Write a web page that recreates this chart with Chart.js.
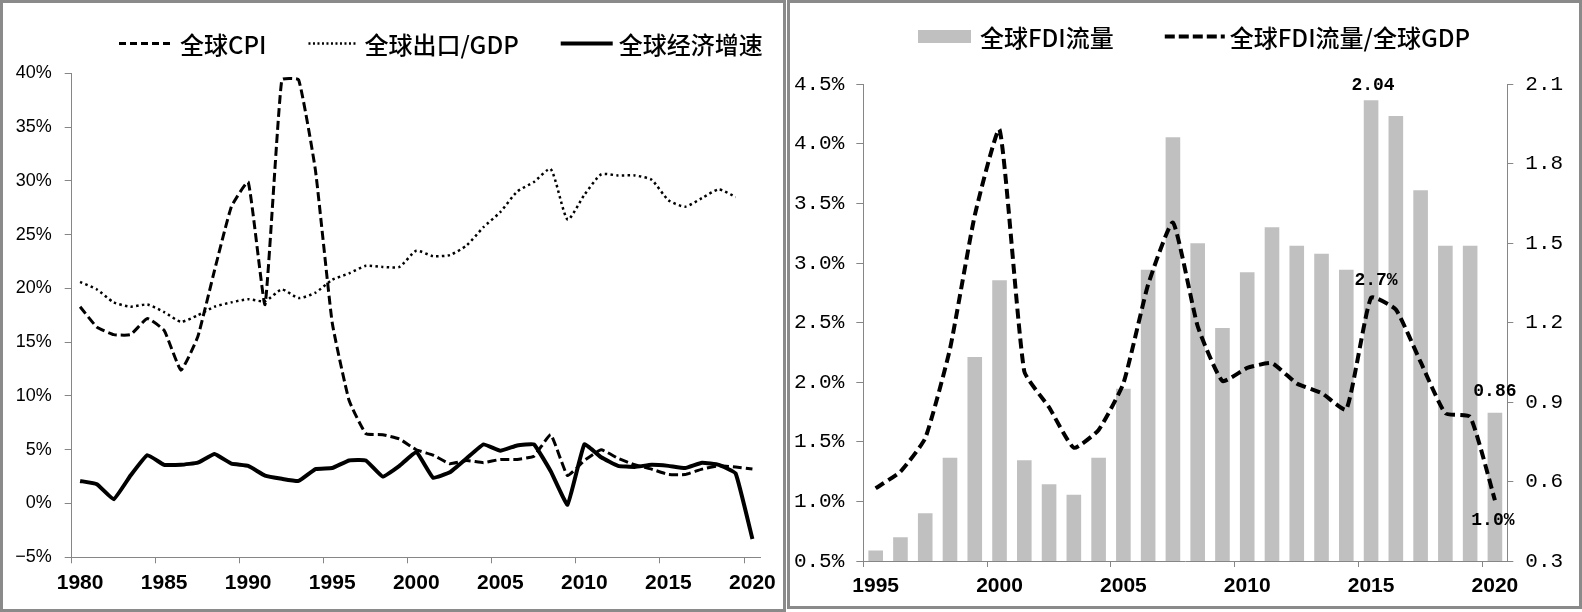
<!DOCTYPE html>
<html><head><meta charset="utf-8">
<script src="https://cdn.jsdelivr.net/npm/chart.js@4.4.1/dist/chart.umd.min.js"></script>
<style>
html,body{margin:0;padding:0;background:#fff;}
body{width:1582px;height:612px;position:relative;overflow:hidden;}
.panel{position:absolute;box-sizing:border-box;border:3px solid #8a8a8a;background:#fff;}
#p1{left:0;top:0;width:786px;height:612px;}
#p2{left:787px;top:0;width:795px;height:609px;}
canvas{position:absolute;left:0;top:0;}
</style></head><body>
<div class="panel" id="p1"><canvas id="c1" width="780" height="606"></canvas></div>
<div class="panel" id="p2"><canvas id="c2" width="789" height="603"></canvas></div>
<script>
// ---------- Data: left chart ----------
const yearsLeft = ['1980','1981','1982','1983','1984','1985','1986','1987','1988','1989','1990','1991','1992','1993','1994','1995','1996','1997','1998','1999','2000','2001','2002','2003','2004','2005','2006','2007','2008','2009','2010','2011','2012','2013','2014','2015','2016','2017','2018','2019','2020'];
const globalCPI = [18.3,16.4,15.7,15.7,17.2,16.1,12.4,15.5,21.7,27.6,29.9,18.5,39.4,39.4,31.0,16.8,9.6,6.5,6.4,6.0,5.0,4.5,3.7,4.0,3.8,4.1,4.1,4.4,6.4,2.6,4.0,5.0,4.2,3.6,3.2,2.7,2.7,3.2,3.5,3.4,3.2];
const exportToGDP = [20.6,19.9,18.7,18.3,18.5,17.8,16.9,17.5,18.3,18.7,19.0,18.8,19.9,19.1,19.6,20.8,21.4,22.1,22.0,22.0,23.5,23.0,23.1,24.0,25.7,27.1,29.0,29.9,31.1,26.4,28.7,30.6,30.5,30.5,30.1,28.2,27.6,28.4,29.2,28.5,null];
const gdpGrowth = [2.1,1.8,0.4,2.6,4.5,3.6,3.6,3.8,4.6,3.7,3.5,2.6,2.3,2.1,3.2,3.3,4.0,4.0,2.5,3.5,4.8,2.4,2.9,4.2,5.5,4.9,5.4,5.5,3.0,-0.1,5.5,4.3,3.5,3.4,3.6,3.5,3.3,3.8,3.6,2.8,-3.3];
const leftTicks = {min:-5, max:40, step:5};

// ---------- Data: right chart ----------
const yearsRight = ['1995','1996','1997','1998','1999','2000','2001','2002','2003','2004','2005','2006','2007','2008','2009','2010','2011','2012','2013','2014','2015','2016','2017','2018','2019','2020'];
const fdiFlow = [0.34,0.39,0.48,0.69,1.07,1.36,0.68,0.59,0.55,0.69,0.95,1.40,1.90,1.50,1.18,1.39,1.56,1.49,1.46,1.40,2.04,1.98,1.70,1.49,1.49,0.86];
const fdiToGDP = [1.11,1.25,1.53,2.28,3.40,4.12,2.09,1.79,1.45,1.60,1.99,2.82,3.34,2.47,2.01,2.12,2.16,1.99,1.91,1.77,2.71,2.61,2.17,1.74,1.71,1.01];
const rightPctTicks = {min:0.5, max:4.5, step:0.5};
const rightValTicks = {min:0.3, max:2.1, step:0.3};
const labelledBarYears = ['2015','2020'];
const labelledLineYears = ['2015','2020'];

// ---------- Styles ----------
const AXIS = '#868686';
const BLACK = '#000000';
const BAR = '#c0c0c0';
const LEGEND_FONT = '500 24px "Noto Sans CJK SC", "Noto Sans", sans-serif';
const XFONT = {family:'"Liberation Sans", Arial, sans-serif', size:21, weight:'bold'};

const legendPlugin = {
  id: 'customLegend',
  afterDraw(chart, args, o) {
    const ctx = chart.ctx;
    ctx.save();
    ctx.font = o.font;
    ctx.textBaseline = 'middle';
    ctx.textAlign = 'left';
    let x = o.x;
    chart.data.datasets.forEach((ds, i) => {
      const w = o.sampleWidths[i];
      const isBar = ds.type === 'bar';
      if (isBar) {
        ctx.fillStyle = ds.backgroundColor;
        ctx.fillRect(x, o.y - o.boxH / 2, w, o.boxH);
      } else {
        ctx.strokeStyle = ds.borderColor;
        ctx.lineWidth = o.lineWidths[i];
        ctx.lineCap = 'butt';
        ctx.setLineDash(o.dashes[i]);
        ctx.beginPath();
        ctx.moveTo(x, o.y);
        ctx.lineTo(x + w, o.y);
        ctx.stroke();
        ctx.setLineDash([]);
      }
      x += w + o.textGaps[i];
      ctx.fillStyle = BLACK;
      ctx.fillText(ds.label, x, o.y + 1);
      x += ctx.measureText(ds.label).width + o.itemGap;
    });
    ctx.restore();
  }
};

const valueLabelPlugin = {
  id: 'valueLabels',
  afterDatasetsDraw(chart, args, o) {
    const ctx = chart.ctx;
    ctx.save();
    ctx.font = o.font;
    ctx.fillStyle = BLACK;
    ctx.textAlign = 'center';
    ctx.textBaseline = 'middle';
    o.items.forEach(it => {
      const meta = chart.getDatasetMeta(it.dataset);
      it.years.forEach((yr, k) => {
        const idx = chart.data.labels.indexOf(yr);
        const el = meta.data[idx];
        const v = chart.data.datasets[it.dataset].data[idx];
        ctx.fillText(it.fmt(v), el.x + (it.dx ? it.dx[k] : 0), el.y + it.dy[k]);
      });
    });
    ctx.restore();
  }
};

function xAxis() {
  return {
    type: 'category',
    offset: true,
    grid: {
      offset: true, drawOnChartArea: false, drawTicks: true, tickLength: 6,
      tickColor: c => (c.type === 'tick' && c.index % 5 === 0) ? AXIS : 'rgba(0,0,0,0)'
    },
    border: {display: true, color: AXIS, width: 1},
    ticks: {
      autoSkip: false, maxRotation: 0, minRotation: 0, padding: 7, color: BLACK, font: XFONT,
      callback(v) { const l = this.getLabelForValue(v); return (+l) % 5 === 0 ? l : ''; }
    },
    afterFit(s) { s.height = 40; }
  };
}

// ---------- Left chart ----------
new Chart(document.getElementById('c1'), {
  type: 'line',
  data: {
    labels: yearsLeft,
    datasets: [
      {label: '全球CPI', data: globalCPI, borderColor: BLACK, borderWidth: 3, borderDash: [9, 4], pointRadius: 0, tension: 0.12, fill: false},
      {label: '全球出口/GDP', data: exportToGDP, borderColor: BLACK, borderWidth: 2.5, borderDash: [2.5, 3.2], pointRadius: 0, tension: 0.2, fill: false},
      {label: '全球经济增速', data: gdpGrowth, borderColor: BLACK, borderWidth: 4, pointRadius: 0, tension: 0.1, fill: false, borderJoinStyle: 'round'}
    ]
  },
  options: {
    responsive: false, animation: false, devicePixelRatio: 1,
    layout: {padding: {top: 70.3, right: 17.2, bottom: 11.7, left: 0}},
    plugins: {
      legend: {display: false}, tooltip: {enabled: false},
      customLegend: {font: LEGEND_FONT, x: 116, y: 40.4, sampleWidths: [53, 47, 52], lineWidths: [3, 2.5, 4], dashes: [[7, 4], [2, 2.5], []], textGaps: [8, 9, 6], itemGap: 42, boxH: 13}
    },
    scales: {
      x: xAxis(),
      y: {
        min: leftTicks.min, max: leftTicks.max,
        ticks: {stepSize: leftTicks.step, padding: 13, color: BLACK, font: {family: '"Liberation Sans", Arial, sans-serif', size: 18},
          callback: v => (v < 0 ? '\u2212' + (-v) : v) + '%'},
        grid: {drawOnChartArea: false, tickLength: 7, tickColor: AXIS},
        border: {display: true, color: AXIS, width: 1},
        afterFit(s) { s.width = 68.7; }
      }
    }
  },
  plugins: [legendPlugin]
});

// ---------- Right chart ----------
new Chart(document.getElementById('c2'), {
  data: {
    labels: yearsRight,
    datasets: [
      {type: 'bar', label: '全球FDI流量', data: fdiFlow, backgroundColor: BAR, borderWidth: 0, yAxisID: 'y2', barPercentage: 0.59, categoryPercentage: 1, order: 1},
      {type: 'line', label: '全球FDI流量/全球GDP', data: fdiToGDP, borderColor: BLACK, borderWidth: 4, borderDash: [10, 5], pointRadius: 0, tension: 0.15, fill: false, yAxisID: 'y', order: 0}
    ]
  },
  options: {
    responsive: false, animation: false, devicePixelRatio: 1,
    layout: {padding: {top: 81.3, right: 0, bottom: 5, left: 0}},
    plugins: {
      legend: {display: false}, tooltip: {enabled: false},
      customLegend: {font: LEGEND_FONT, x: 128, y: 33.5, sampleWidths: [53, 60], lineWidths: [0, 4], dashes: [[], [10, 4]], textGaps: [9, 5], itemGap: 51, boxH: 13},
      valueLabels: {
        font: 'bold 18px "Liberation Mono", "DejaVu Sans Mono", monospace',
        items: [
          {dataset: 0, years: labelledBarYears, dy: [-15, -21], dx: [2, 0], fmt: v => v.toFixed(2)},
          {dataset: 1, years: labelledLineYears, dy: [-17, 20], dx: [5, -2], fmt: v => v.toFixed(1) + '%'}
        ]
      }
    },
    scales: {
      x: xAxis(),
      y: {
        position: 'left', min: rightPctTicks.min, max: rightPctTicks.max,
        ticks: {stepSize: rightPctTicks.step, padding: 12, color: BLACK, font: {family: '"Liberation Mono", "DejaVu Sans Mono", monospace', size: 21},
          callback: v => v.toFixed(1) + '%'},
        grid: {drawOnChartArea: false, tickLength: 7, tickColor: AXIS},
        border: {display: true, color: AXIS, width: 1},
        afterFit(s) { s.width = 73.3; }
      },
      y2: {
        position: 'right', min: rightValTicks.min, max: rightValTicks.max,
        ticks: {stepSize: rightValTicks.step, padding: 12, color: BLACK, font: {family: '"Liberation Mono", "DejaVu Sans Mono", monospace', size: 21},
          callback: v => v.toFixed(1)},
        grid: {drawOnChartArea: false, tickLength: 6, tickColor: AXIS},
        border: {display: true, color: AXIS, width: 1},
        afterFit(s) { s.width = 71.7; }
      }
    }
  },
  plugins: [legendPlugin, valueLabelPlugin]
});
</script>
</body></html>
